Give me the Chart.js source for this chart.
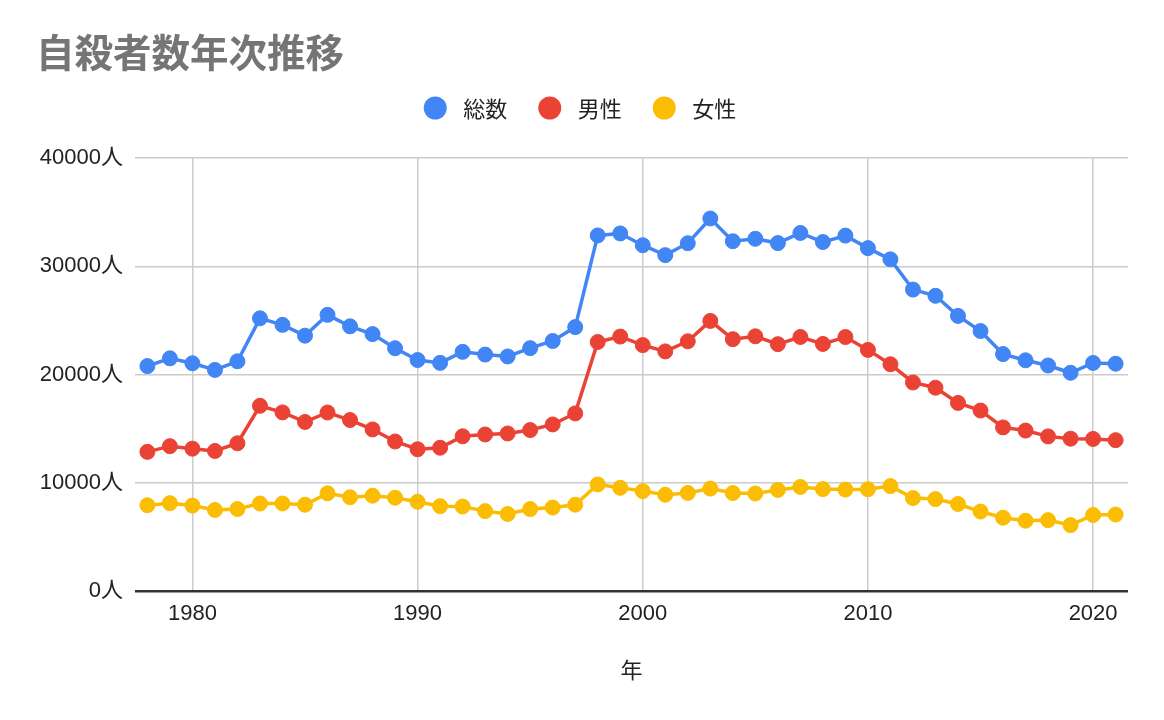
<!DOCTYPE html>
<html lang="ja">
<head>
  <meta charset="UTF-8">
  <title>自殺者数年次推移</title>
  <script src="https://cdn.jsdelivr.net/npm/chart.js"></script>
  <style>
    body { margin: 0; background: #fff; }
    #wrap { width: 1164px; height: 720px; position: relative; }
  </style>
</head>
<body>
<div id="wrap"><canvas id="chart"></canvas></div>
<script>
// data
const years = [1978,1979,1980,1981,1982,1983,1984,1985,1986,1987,1988,1989,1990,1991,1992,1993,1994,1995,1996,1997,
  1998,1999,2000,2001,2002,2003,2004,2005,2006,2007,2008,2009,2010,2011,2012,2013,2014,2015,2016,2017,2018,2019,2020,2021];
const total = [20788,21503,21048,20434,21228,25202,24596,23599,25524,24460,23742,22436,21346,21084,22104,21851,21679,22445,23104,24391,
  32863,33048,31957,31042,32143,34427,32325,32552,32155,33093,32249,32845,31690,30651,27858,27283,25427,24025,21897,21321,20840,20169,21081,21007];
const male = [12859,13386,13155,12942,13654,17116,16508,15624,16497,15802,14934,13818,13102,13242,14296,14468,14560,14874,15393,16416,
  23013,23512,22727,22144,23080,24963,23272,23540,22813,23478,22831,23472,22283,20955,19273,18787,17386,16681,15121,14826,14290,14078,14055,13939];
const female = [7929,8117,7893,7492,7574,8086,8088,7975,9027,8658,8808,8618,8244,7842,7808,7383,7119,7571,7711,7975,
  9850,9536,9230,8898,9063,9464,9053,9012,9342,9615,9418,9373,9407,9696,8585,8496,8041,7344,6776,6495,6550,6091,7026,7068];
const seriesNames = ['総数', '男性', '女性'];
const colors = ['#4285F4', '#EA4335', '#FBBC04'];
const xTicks = [1980, 1990, 2000, 2010, 2020];
const yTicks = [0, 10000, 20000, 30000, 40000];

const FONT = "'Liberation Sans', Arial, 'Noto Sans CJK JP', sans-serif";
const CJK = "'Noto Sans CJK JP', 'Liberation Sans', sans-serif";

function pts(vals) { return years.map((y, i) => ({ x: y, y: vals[i] })); }

// legend drawn by hand so the spacing matches
const legendPlugin = {
  id: 'sheetLegend',
  afterDraw(chart) {
    const ctx = chart.ctx;
    const r = 11.5, gapText = 16.5, gapItem = 31, cy = 108;
    ctx.save();
    ctx.font = '22px ' + CJK;
    const widths = seriesNames.map(n => ctx.measureText(n).width);
    let full = 0;
    widths.forEach((w, i) => { full += 2 * r + gapText + w + (i < widths.length - 1 ? gapItem : 0); });
    let x = chart.width / 2 - full / 2 - 2;
    seriesNames.forEach((n, i) => {
      ctx.fillStyle = colors[i];
      ctx.beginPath();
      ctx.arc(x + r, cy, r, 0, Math.PI * 2);
      ctx.fill();
      ctx.fillStyle = '#222';
      ctx.textBaseline = 'middle';
      ctx.textAlign = 'left';
      ctx.fillText(n, x + 2 * r + gapText, cy + 1);
      x += 2 * r + gapText + widths[i] + gapItem;
    });
    ctx.restore();
  }
};

const datasets = [total, male, female].map((vals, i) => ({
  label: seriesNames[i],
  data: pts(vals),
  borderColor: colors[i],
  backgroundColor: colors[i],
  borderWidth: 3.5,
  pointRadius: 7.5,
  pointBorderWidth: 1,
  pointHoverRadius: 7.5,
  tension: 0
}));

new Chart(document.getElementById('chart'), {
  type: 'line',
  data: { datasets },
  plugins: [legendPlugin],
  options: {
    responsive: true,
    maintainAspectRatio: false,
    animation: false,
    layout: { padding: { left: 36, right: 36, top: 0, bottom: 0 } },
    plugins: {
      legend: { display: false },
      tooltip: { enabled: false },
      title: {
        display: true,
        text: '自殺者数年次推移',
        align: 'start',
        color: '#757575',
        font: { family: CJK, size: 38.5, weight: 'bold' },
        padding: { top: 29, bottom: 83 }
      }
    },
    scales: {
      x: {
        type: 'linear',
        min: 1977.45,
        max: 2021.55,
        afterBuildTicks: s => { s.ticks = xTicks.map(v => ({ value: v })); },
        afterFit: s => { s.height = 129; },
        ticks: { color: '#222', font: { family: FONT, size: 22 }, padding: 10, maxRotation: 0, callback: v => String(v) },
        grid: { color: '#cccccc', lineWidth: 1.5, drawTicks: false },
        border: { display: false },
        title: { display: true, text: '年', color: '#222', font: { family: CJK, size: 22 }, padding: { top: 0, bottom: 37 } }
      },
      y: {
        min: 0,
        max: 40000,
        afterBuildTicks: s => { s.ticks = yTicks.map(v => ({ value: v })); },
        afterFit: s => { s.width = 99; },
        ticks: { color: '#222', font: { family: FONT, size: 22 }, padding: 12, callback: v => v + '人' },
        grid: {
          drawTicks: false,
          color: c => c.tick && c.tick.value === 0 ? '#333333' : '#cccccc',
          lineWidth: c => c.tick && c.tick.value === 0 ? 2.5 : 1.5
        },
        border: { display: false }
      }
    }
  }
});
</script>
</body>
</html>
